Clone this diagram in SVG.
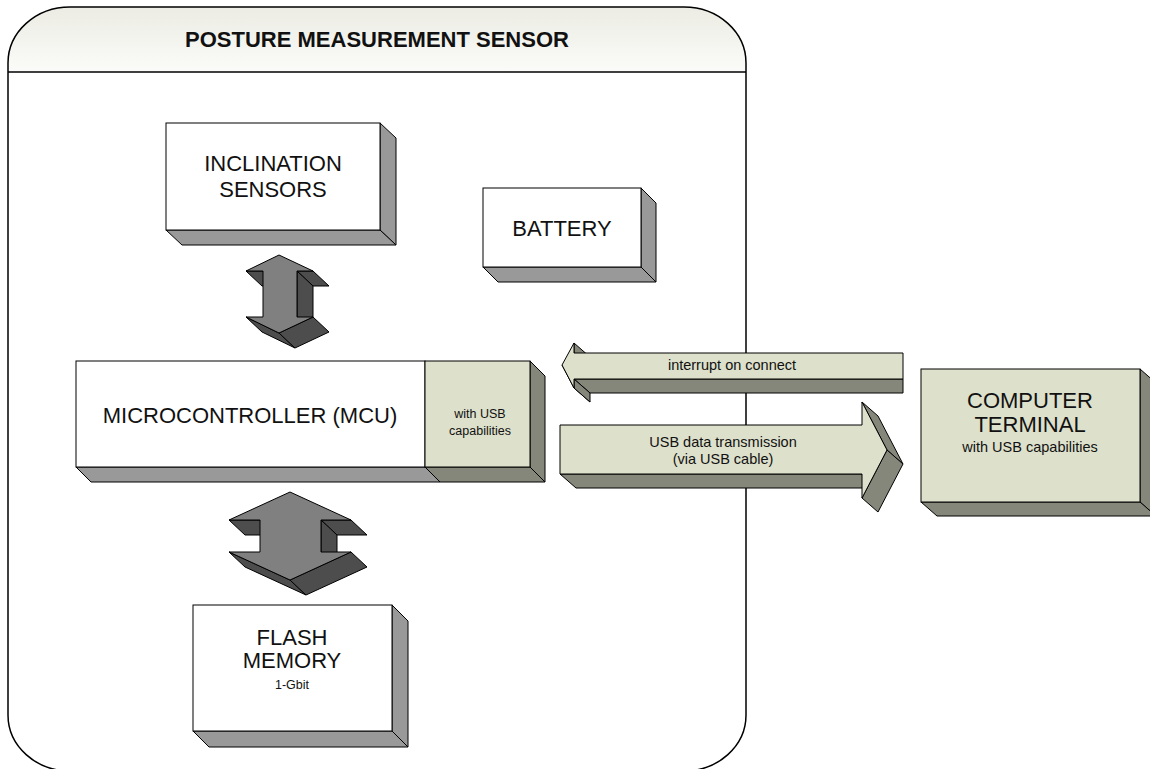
<svg xmlns="http://www.w3.org/2000/svg" width="1150" height="769" viewBox="0 0 1150 769">
<defs>
<linearGradient id="hdr" x1="0" y1="0" x2="0" y2="1">
<stop offset="0" stop-color="#ececE4"/>
<stop offset="1" stop-color="#fbfbf9"/>
</linearGradient>
<style>
.ln{stroke:#000;stroke-width:1;stroke-linejoin:miter}
.wf{fill:#fff}
.gd{fill:#999}
.bf{fill:#dde0cb}
.bd{fill:#85877a}
.af{fill:#808080}
.ad{fill:#4d4d4d}
.big{font-family:"Liberation Sans",Arial,sans-serif;font-size:22px;fill:#111;text-anchor:middle}
.sm{font-family:"Liberation Sans",Arial,sans-serif;font-size:12.5px;fill:#111;text-anchor:middle}
.md{font-family:"Liberation Sans",Arial,sans-serif;font-size:14.5px;fill:#111;text-anchor:middle}
.ttl{font-family:"Liberation Sans",Arial,sans-serif;font-size:22px;font-weight:bold;fill:#111;text-anchor:middle}
</style>
</defs>
<rect width="1150" height="769" fill="#fff"/>

<g id="container">
<path d="M8,72 V63 A62,56 0 0 1 70,7 H684 A62,56 0 0 1 746,63 V72 Z" fill="url(#hdr)"/>
<path d="M8,72 V715 A62,56 0 0 0 70,771 H684 A62,56 0 0 0 746,715 V72 Z" fill="#fff"/>
<path d="M8,715 V63 A62,56 0 0 1 70,7 H684 A62,56 0 0 1 746,63 V715 A62,56 0 0 1 684,771 H70 A62,56 0 0 1 8,715 Z" fill="none" stroke="#000" stroke-width="1.5"/>
<line x1="8" y1="72" x2="746" y2="72" stroke="#000" stroke-width="1.5"/>
<text class="ttl" x="377" y="47">POSTURE MEASUREMENT SENSOR</text>
</g>

<g id="inclination">
<polygon class="ln gd" points="380,123 396,138 396,245 380,230"/>
<polygon class="ln gd" points="166,230 380,230 396,245 182,245"/>
<rect class="ln wf" x="166" y="123" width="214" height="107"/>
<text class="big" x="273" y="171">INCLINATION</text>
<text class="big" x="273" y="197">SENSORS</text>
</g>

<g id="battery">
<polygon class="ln gd" points="641,188 656,203 656,282 641,267"/>
<polygon class="ln gd" points="483,267 641,267 656,282 498,282"/>
<rect class="ln wf" x="483" y="188" width="158" height="79"/>
<text class="big" x="562" y="236">BATTERY</text>
</g>

<g id="mcu">
<polygon class="ln bd" points="530,361 545,376 545,482 530,467"/>
<polygon class="ln gd" points="76,467 425,467 440,482 91,482"/>
<polygon class="ln bd" points="425,467 530,467 545,482 440,482"/>
<rect class="ln wf" x="76" y="361" width="349" height="106"/>
<rect class="ln bf" x="425" y="361" width="105" height="106"/>
<text class="big" x="250" y="423">MICROCONTROLLER (MCU)</text>
<text class="sm" x="480" y="417.5">with USB</text>
<text class="sm" x="480" y="434.5">capabilities</text>
</g>

<g id="flash">
<polygon class="ln gd" points="392,605 408,621 408,747 392,731"/>
<polygon class="ln gd" points="193,731 392,731 408,747 209,747"/>
<rect class="ln wf" x="193" y="605" width="199" height="126"/>
<text class="big" x="292" y="644.5">FLASH</text>
<text class="big" x="292" y="668">MEMORY</text>
<text class="sm" x="292" y="688.5">1-Gbit</text>
</g>

<g id="computer">
<polygon class="ln bd" points="1140,369 1156,383 1156,516 1140,502"/>
<polygon class="ln bd" points="921,502 1140,502 1156,516 937,516"/>
<rect class="ln bf" x="921" y="369" width="219" height="133"/>
<text class="big" x="1030" y="408">COMPUTER</text>
<text class="big" x="1030" y="432">TERMINAL</text>
<text class="md" x="1030" y="451.5">with USB capabilities</text>
</g>

<g id="connectors">
<g id="arrow-inclination-mcu">
<polygon class="ln ad" points="263,271 246,271 262,286 279,286"/>
<polygon class="ln ad" points="313,271 297,271 313,286 329,286"/>
<polygon class="ln ad" points="297,271 313,286 313,332 297,317"/>
<polygon class="ln ad" points="279,333 246,317 262,332 295,348"/>
<polygon class="ln ad" points="313,317 279,333 295,348 329,332"/>
<polygon class="ln af" points="279,255 313,271 297,271 297,317 313,317 279,333 246,317 263,317 263,271 246,271"/>
</g>
<g id="arrow-mcu-flash">
<polygon class="ln ad" points="260,520 229,520 245,535 276,535"/>
<polygon class="ln ad" points="351,520 321,520 337,535 367,535"/>
<polygon class="ln ad" points="321,520 337,535 337,567 321,552"/>
<polygon class="ln ad" points="290,580 229,552 245,567 306,595"/>
<polygon class="ln ad" points="351,552 290,580 306,595 367,567"/>
<polygon class="ln af" points="290,492 351,520 321,520 321,552 351,552 290,580 229,552 260,552 260,520 229,520"/>
</g>
<g id="arrow-interrupt">
<polygon class="ln bd" points="574,343 590,357 590,367 574,353"/>
<polygon class="ln bd" points="562,365 574,388 590,402 578,379"/>
<polygon class="ln bd" points="574,379 903,379 903,393 590,393"/>
<polygon class="ln bd" points="574,379 574,388 590,402 590,393"/>
<polygon class="ln bf" points="562,365 574,343 574,353 903,353 903,379 574,379 574,388"/>
<text class="md" x="732" y="369.5">interrupt on connect</text>
</g>
<g id="arrow-usb">
<polygon class="ln bd" points="560,474 862,474 878,488 576,488"/>
<polygon class="ln bd" points="862,402 887,450 903,464 878,416"/>
<polygon class="ln bd" points="887,450 862,498 878,512 903,464"/>
<polygon class="ln bf" points="560,425 862,425 862,402 887,450 862,498 862,474 560,474"/>
<text class="md" x="723" y="447">USB data transmission</text>
<text class="md" x="723" y="463.5">(via USB cable)</text>
</g>
</g>
</svg>
